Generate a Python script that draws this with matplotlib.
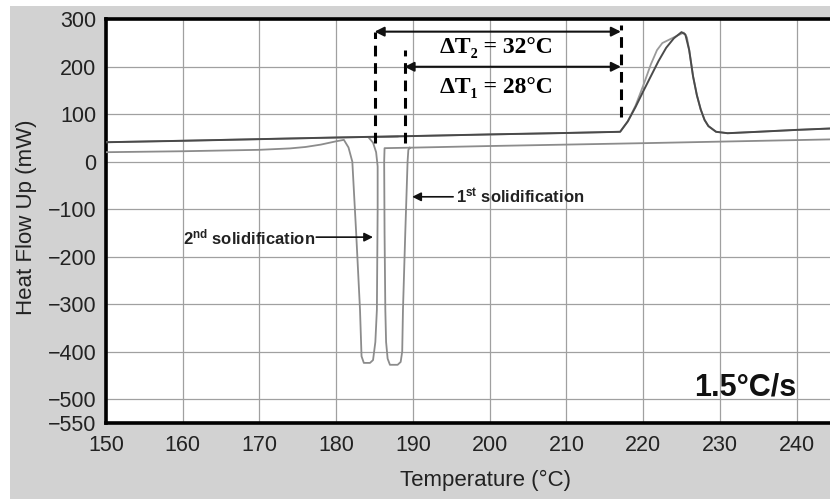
import matplotlib
matplotlib.use("Agg")
import matplotlib.pyplot as plt
from matplotlib.patches import Rectangle

plt.rcParams['font.family'] = ['Liberation Sans', 'DejaVu Sans']
plt.rcParams['mathtext.fontset'] = 'custom'
plt.rcParams['mathtext.rm'] = 'Liberation Sans'
plt.rcParams['mathtext.bf'] = 'Liberation Sans:bold'

# heating trace 1 (dark)
heat1_t = [150, 160, 170, 180, 190, 200, 210, 217, 218, 219, 220, 221, 222, 223, 224, 225,
           225.5, 226, 226.5, 227, 227.5, 228, 228.5, 229.5, 231, 235, 240, 249]
heat1_q = [41, 44, 47.5, 51, 54, 57.5, 60.5, 63, 85, 115, 148, 180, 212, 240, 260, 273,
           268, 235, 180, 140, 110, 88, 75, 63, 60, 63, 67, 73]

# heating trace 2 (light, shoulder on the melting peak)
heat2_t = [150, 170, 190, 210, 217, 218, 219, 220, 221, 221.8, 222.5, 223.5, 224.5, 225.3,
           225.7, 226, 226.5, 227, 227.5, 228, 228.5, 229.5, 231, 240, 249]
heat2_q = [41, 47.5, 54, 60.5, 63, 85, 118, 160, 205, 235, 250, 258, 266, 272,
           262, 235, 180, 140, 110, 88, 75, 63, 60, 67, 73]

# cooling trace 1 (1st solidification)
cool1_t = [249, 240, 220, 200, 189.6, 186.3, 186.25, 186.3, 186.4, 186.5, 186.7, 187.0, 188.0,
           188.4, 188.6, 188.7, 189.0, 189.3, 189.4, 189.6]
cool1_q = [48.5, 45.5, 39, 33, 29.5, 28.5, 0, -150, -312, -380, -415, -428, -428,
           -422, -400, -312, -150, 0, 25, 29.5]

# cooling trace 2 (2nd solidification)
cool2_t = [188, 186, 184.2, 184.8, 185.2, 185.4, 185.4, 185.3, 185.1, 184.8, 184.4, 183.6,
           183.3, 183.1, 182.6, 182.1, 181.6, 181.0, 180, 178, 176, 174, 170, 160, 150]
cool2_q = [53, 52, 51.5, 40, 20, -10, -100, -312, -380, -418, -424, -424,
           -410, -312, -150, 0, 30, 46, 43, 36, 31, 28, 25, 22, 20]

xticks = [150, 160, 170, 180, 190, 200, 210, 220, 230, 240]
yticks = [300, 200, 100, 0, -100, -200, -300, -400, -500, -550]

fig = plt.figure(figsize=(8.3, 4.99), dpi=100, facecolor='white')
fig.patches.append(Rectangle((10 / 830, 0), 1, 493 / 499, transform=fig.transFigure,
                             facecolor='#d2d2d2', edgecolor='none', zorder=-10))
ax = fig.add_axes([106 / 830, 0.1529, 0.9153, 0.8084])
ax.set_facecolor('white')

ax.plot(cool2_t, cool2_q, color='#8c8c8c', lw=1.3, zorder=3)
ax.plot(cool1_t, cool1_q, color='#8c8c8c', lw=1.3, zorder=3)
ax.plot(heat2_t, heat2_q, color='#9a9a9a', lw=1.3, zorder=3)
ax.plot(heat1_t, heat1_q, color='#4a4a4a', lw=1.4, zorder=4)

ax.set_xlim(150, 249)
ax.set_ylim(-550, 300)
ax.set_xticks(xticks)
ax.set_yticks(yticks)
ax.grid(True, color='#a0a0a0', lw=0.9, zorder=0)
ax.set_axisbelow(True)
ax.get_ygridlines()[-1].set_visible(False)

ax.tick_params(length=0, colors='#222222', labelsize=15.5)
ax.tick_params(axis='x', pad=9)
ax.tick_params(axis='y', pad=7)
for s in ['left', 'top', 'bottom']:
    ax.spines[s].set_linewidth(2.6)
ax.spines['right'].set_visible(False)

ax.set_xlabel('Temperature (°C)', fontsize=16, color='#222222', labelpad=10)
ax.set_ylabel('Heat Flow Up (mW)', fontsize=16, color='#222222')
ax.yaxis.set_label_coords(-0.091, 0.51)

# dashed guides
dash = dict(color='black', lw=2.2, ls=(0, (3.5, 2.2)), zorder=5)
ax.plot([185.0, 185.0], [39, 274], **dash)
ax.plot([188.9, 188.9], [39, 235], **dash)
ax.plot([217.1, 217.1], [95, 288], **dash)

arrow = dict(arrowstyle='<|-|>', lw=1.5, color='#111111', mutation_scale=14, shrinkA=0, shrinkB=0)
ax.annotate('', xy=(185.0, 274), xytext=(217.1, 274), arrowprops=arrow, zorder=6)
ax.annotate('', xy=(188.9, 200), xytext=(217.1, 200), arrowprops=arrow, zorder=6)

serif = ['Liberation Serif', 'DejaVu Serif']
ax.text(200.9, 240, 'ΔT₂ = 32°C', family=serif, fontweight='bold', fontsize=17,
        ha='center', va='center', zorder=6)
ax.text(200.9, 156, 'ΔT₁ = 28°C', family=serif, fontweight='bold', fontsize=17,
        ha='center', va='center', zorder=6)

sarrow = dict(arrowstyle='-|>', lw=1.2, color='#111111', mutation_scale=13, shrinkA=0, shrinkB=0)
ax.annotate(r'$\mathbf{1^{st}}$ solidification', xy=(189.9, -74), xytext=(195.6, -74),
            fontsize=12, fontweight='bold', ha='left', va='center', arrowprops=sarrow,
            color='#222222', zorder=6)
ax.annotate('', xy=(184.8, -159), xytext=(177.4, -159), arrowprops=sarrow, zorder=6)
ax.text(177.3, -159, r'$\mathbf{2^{nd}}$ solidification', fontsize=12, fontweight='bold',
        ha='right', va='center', color='#222222', zorder=6)

ax.text(240, -476, '1.5°C/s', fontsize=22, fontweight='bold', ha='right', va='center',
        color='#111111', zorder=6)

fig.savefig('out.png', dpi=100, facecolor=fig.get_facecolor())
